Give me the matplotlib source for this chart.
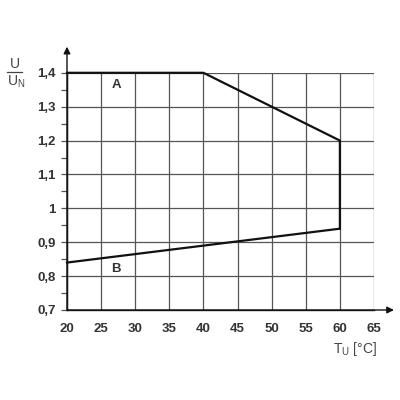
import matplotlib
matplotlib.use("Agg")
import matplotlib.pyplot as plt
from matplotlib.ticker import MultipleLocator, FuncFormatter

# Data
curve_A_x = [20, 40, 60, 60]
curve_A_y = [1.4, 1.4, 1.2, 0.94]
curve_B_x = [20, 60]
curve_B_y = [0.84, 0.94]
x_ticks = [20, 25, 30, 35, 40, 45, 50, 55, 60, 65]
y_ticks = [0.7, 0.8, 0.9, 1.0, 1.1, 1.2, 1.3, 1.4]

plt.rcParams['font.family'] = ['Liberation Sans', 'DejaVu Sans']
txt = '#333333'

fig = plt.figure(figsize=(4, 4), dpi=100)
ax = fig.add_axes([0.1675, 0.225, 0.7675, 0.593])
ax.set_xlim(20, 65)
ax.set_ylim(0.7, 1.4)
ax.set_xticks(x_ticks)
ax.set_yticks(y_ticks)
ax.yaxis.set_minor_locator(MultipleLocator(0.05))
ax.yaxis.set_major_formatter(FuncFormatter(lambda v, p: ('%g' % round(v, 2)).replace('.', ',')))
ax.grid(True, which='major', color='#555555', linewidth=0.9)
for s in ['top', 'right']:
    ax.spines[s].set_visible(False)
for s in ['left', 'bottom']:
    ax.spines[s].set_color('#222222')
    ax.spines[s].set_linewidth(1.0)
ax.tick_params(axis='both', which='both', direction='out', length=4, color='#555555', width=0.9,
               labelsize=9.5, labelcolor=txt)
ax.tick_params(axis='x', length=0, pad=9)
ax.tick_params(axis='y', pad=4)
for lab in ax.get_xticklabels() + ax.get_yticklabels():
    lab.set_fontweight('bold')

ax.plot(curve_A_x, curve_A_y, color='#111111', linewidth=1.6, solid_joinstyle='miter', clip_on=False, zorder=5)
ax.plot(curve_B_x, curve_B_y, color='#111111', linewidth=1.6, clip_on=False, zorder=5)

ax.text(27.3, 1.365, 'A', fontsize=9.5, fontweight='bold', color=txt, ha='center', va='center')
ax.text(27.2, 0.822, 'B', fontsize=9.5, fontweight='bold', color=txt, ha='center', va='center')

# Axis arrows
ax.annotate('', xy=(0, 1.11), xytext=(0, 0), xycoords='axes fraction',
            arrowprops=dict(arrowstyle='-|>', color='#111111', lw=1.0, mutation_scale=10,
                            shrinkA=0, shrinkB=0), annotation_clip=False)
ax.annotate('', xy=(1.065, 0), xytext=(0, 0), xycoords='axes fraction',
            arrowprops=dict(arrowstyle='-|>', color='#111111', lw=1.0, mutation_scale=10,
                            shrinkA=0, shrinkB=0), annotation_clip=False)

# Axis labels
fig.text(14.5/400, 1 - 63.5/400, 'U', fontsize=10, color='#444444', ha='center', va='center')
fig.add_artist(plt.Line2D([7/400, 22/400], [1 - 71.5/400, 1 - 71.5/400], color='#444444', linewidth=0.9))
fig.text(16.5/400, 1 - 81.5/400, r'U$_\mathregular{N}$', fontsize=10, color='#444444', ha='center', va='center')
fig.text(355/400, 1 - 349/400, r'T$_\mathregular{U}$ [°C]', fontsize=10, color='#444444', ha='center', va='center')

fig.savefig('out.png', dpi=100, facecolor='white')
